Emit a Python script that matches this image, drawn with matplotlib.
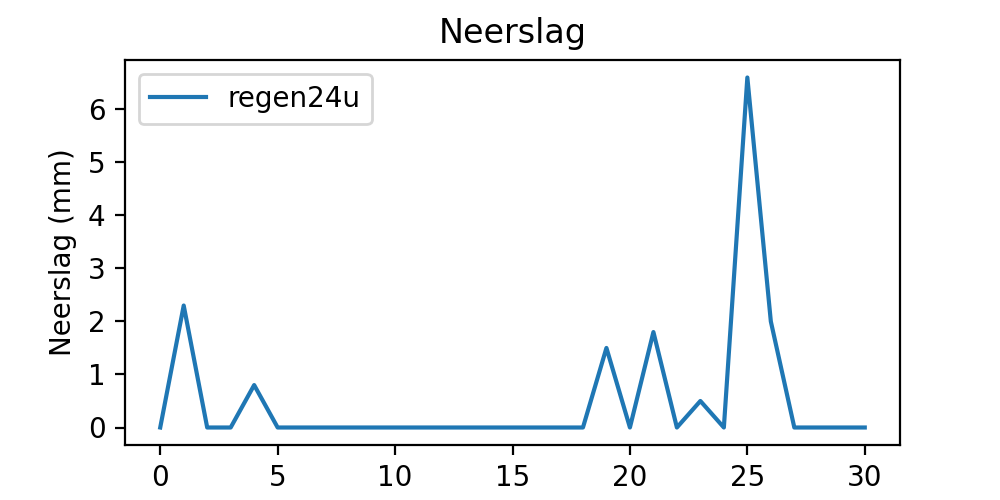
import matplotlib
matplotlib.use("Agg")
import matplotlib.pyplot as plt
from matplotlib.ticker import MultipleLocator

dag = list(range(31))
regen24u = [0, 2.3, 0, 0, 0.8, 0, 0, 0, 0, 0, 0, 0, 0, 0, 0, 0, 0, 0, 0,
            1.5, 0, 1.8, 0, 0.5, 0, 6.6, 2.0, 0, 0, 0, 0]

fig, ax = plt.subplots(figsize=(5, 2.5), dpi=200)
ax.plot(dag, regen24u, label="regen24u")
ax.set_title("Neerslag")
ax.set_xlabel("dag")
ax.set_ylabel("Neerslag (mm)")
ax.yaxis.set_major_locator(MultipleLocator(1))
ax.legend(loc="upper left")
fig.savefig("out.png")
